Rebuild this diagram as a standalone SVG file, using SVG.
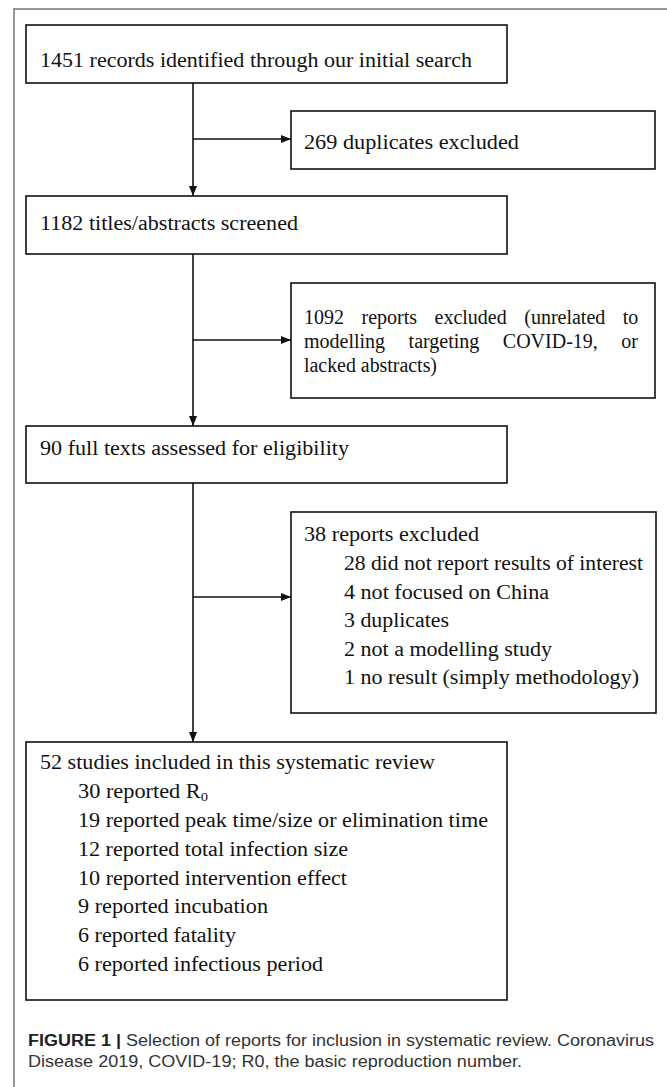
<svg xmlns="http://www.w3.org/2000/svg" width="667" height="1087" viewBox="0 0 667 1087">
<defs>
<style>
.box{fill:#fff;stroke:#111;stroke-width:1.6}
.t{font-family:"Liberation Serif","Times New Roman",serif;font-size:20px;fill:#111}
.con{fill:none;stroke:#111;stroke-width:1.6}
.cap{font-family:"Liberation Sans",Arial,sans-serif;font-size:16px;fill:#333}
.frame{fill:none;stroke:#777;stroke-width:1.5}
</style>
<marker id="arr" markerUnits="userSpaceOnUse" markerWidth="10" markerHeight="10" viewBox="0 0 10 10" refX="10" refY="5" orient="auto">
<path d="M0,1 L10,5 L0,9 Z" fill="#111"/>
</marker>
</defs>
<rect width="667" height="1087" fill="#fff"/>
<path class="frame" d="M14,1087 L14,9 L667,9"/>
<g id="connectors">
<path class="con" d="M193,83 L193,196" marker-end="url(#arr)"/>
<path class="con" d="M193,139 L291,139" marker-end="url(#arr)"/>
<path class="con" d="M193,254 L193,426" marker-end="url(#arr)"/>
<path class="con" d="M193,340 L291,340" marker-end="url(#arr)"/>
<path class="con" d="M193,483 L193,742" marker-end="url(#arr)"/>
<path class="con" d="M193,597 L291,597" marker-end="url(#arr)"/>
</g>
<g id="n1">
<rect class="box" x="26" y="25" width="481" height="58"/>
<text class="t" x="40" y="67" textLength="432" lengthAdjust="spacingAndGlyphs">1451 records identified through our initial search</text>
</g>
<g id="n2">
<rect class="box" x="291" y="111" width="364" height="58"/>
<text class="t" x="304" y="149" textLength="215" lengthAdjust="spacingAndGlyphs">269 duplicates excluded</text>
</g>
<g id="n3">
<rect class="box" x="26" y="196" width="481" height="58"/>
<text class="t" x="40" y="230" textLength="258" lengthAdjust="spacingAndGlyphs">1182 titles/abstracts screened</text>
</g>
<g id="n4">
<rect class="box" x="291" y="283" width="364" height="115"/>
<text class="t" x="304" y="324" word-spacing="12.5">1092 reports excluded (unrelated to</text>
<text class="t" x="304" y="348" word-spacing="18.5">modelling targeting COVID-19, or</text>
<text class="t" x="304" y="372" textLength="133" lengthAdjust="spacingAndGlyphs">lacked abstracts)</text>
</g>
<g id="n5">
<rect class="box" x="26" y="426" width="481" height="57"/>
<text class="t" x="40" y="455" textLength="309" lengthAdjust="spacingAndGlyphs">90 full texts assessed for eligibility</text>
</g>
<g id="n6">
<rect class="box" x="291" y="512" width="365" height="201"/>
<text class="t" x="304" y="541" textLength="175" lengthAdjust="spacingAndGlyphs">38 reports excluded</text>
<text class="t" x="344" y="570" textLength="299" lengthAdjust="spacingAndGlyphs">28 did not report results of interest</text>
<text class="t" x="344" y="599" textLength="205" lengthAdjust="spacingAndGlyphs">4 not focused on China</text>
<text class="t" x="344" y="627" textLength="105" lengthAdjust="spacingAndGlyphs">3 duplicates</text>
<text class="t" x="344" y="656" textLength="208" lengthAdjust="spacingAndGlyphs">2 not a modelling study</text>
<text class="t" x="344" y="684" textLength="295" lengthAdjust="spacingAndGlyphs">1 no result (simply methodology)</text>
</g>
<g id="n7">
<rect class="box" x="26" y="742" width="481" height="258"/>
<text class="t" x="40" y="769" textLength="395" lengthAdjust="spacingAndGlyphs">52 studies included in this systematic review</text>
<text class="t" x="78" y="798" textLength="130" lengthAdjust="spacingAndGlyphs">30 reported R<tspan font-size="13" dy="3">0</tspan></text>
<text class="t" x="78" y="827" textLength="410" lengthAdjust="spacingAndGlyphs">19 reported peak time/size or elimination time</text>
<text class="t" x="78" y="856" textLength="270" lengthAdjust="spacingAndGlyphs">12 reported total infection size</text>
<text class="t" x="78" y="885" textLength="269" lengthAdjust="spacingAndGlyphs">10 reported intervention effect</text>
<text class="t" x="78" y="913" textLength="190" lengthAdjust="spacingAndGlyphs">9 reported incubation</text>
<text class="t" x="78" y="942" textLength="158" lengthAdjust="spacingAndGlyphs">6 reported fatality</text>
<text class="t" x="78" y="971" textLength="245" lengthAdjust="spacingAndGlyphs">6 reported infectious period</text>
</g>
<g id="caption">
<text class="cap" x="28" y="1046" textLength="626" lengthAdjust="spacingAndGlyphs"><tspan font-weight="bold" fill="#222">FIGURE 1 |</tspan> Selection of reports for inclusion in systematic review. Coronavirus</text>
<text class="cap" x="28" y="1067" textLength="494" lengthAdjust="spacingAndGlyphs">Disease 2019, COVID-19; R0, the basic reproduction number.</text>
</g>
</svg>
